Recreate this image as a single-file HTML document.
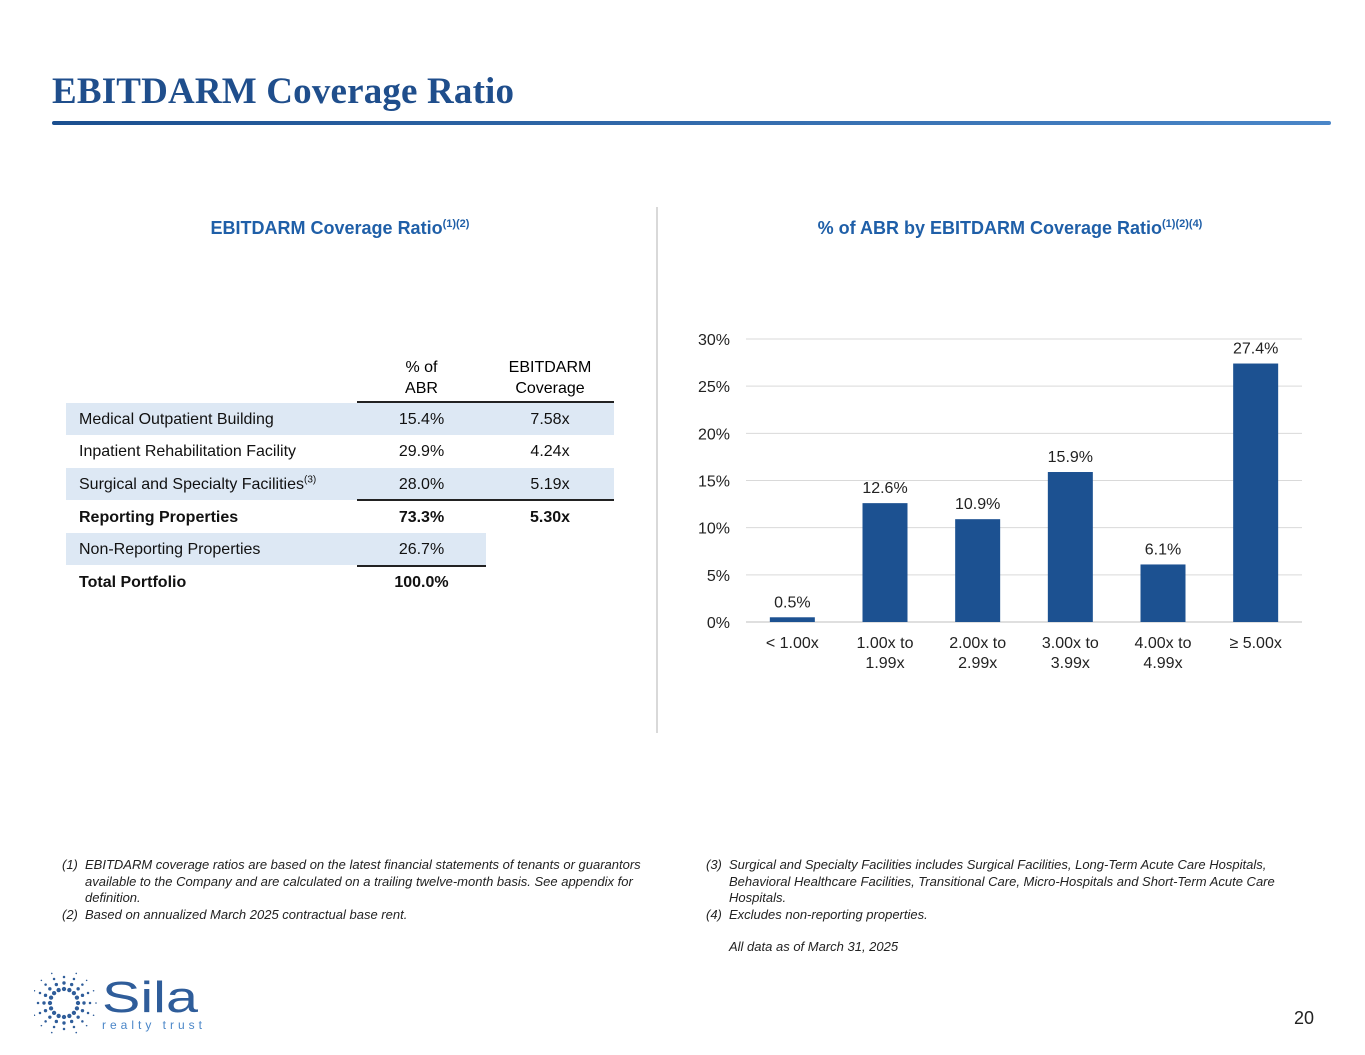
<!DOCTYPE html>
<html><head><meta charset="utf-8">
<style>
body{margin:0;width:1365px;height:1055px;background:#fff;position:relative;overflow:hidden;font-family:"Liberation Sans",Arial,sans-serif;}
.abs{position:absolute;}
.cell{position:absolute;height:33px;line-height:34px;font-size:16px;color:#111;}
.note{position:absolute;font-size:13px;font-style:italic;color:#222;line-height:16.5px;white-space:nowrap;}
</style></head>
<body>
<svg class="abs" style="left:0;top:0" width="1365" height="140">
<defs><linearGradient id="g" x1="0" x2="1"><stop offset="0" stop-color="#1b4f8f"/><stop offset="1" stop-color="#4a86c8"/></linearGradient></defs>
<text x="52" y="103" font-family="Liberation Serif, serif" font-weight="bold" font-size="37" fill="#1f4e8c" textLength="462">EBITDARM Coverage Ratio</text>
<rect x="52" y="121" width="1279" height="4" rx="2" fill="url(#g)"/>
</svg>

<div class="abs" style="left:656px;top:207px;width:2px;height:526px;background:#d9d9d9"></div>

<div class="abs" style="left:66px;top:218px;width:548px;text-align:center;font-size:18px;font-weight:bold;color:#1f5fa8">EBITDARM Coverage Ratio<sup style="font-size:11px">(1)(2)</sup></div>
<div class="abs" style="left:700px;top:218px;width:620px;text-align:center;font-size:18px;font-weight:bold;color:#1f5fa8">% of ABR by EBITDARM Coverage Ratio<sup style="font-size:11px">(1)(2)(4)</sup></div>

<div>
<div class="abs" style="left:357px;top:357px;width:129px;text-align:center;font-size:16px;line-height:21px">% of<br>ABR</div>
<div class="abs" style="left:486px;top:357px;width:128px;text-align:center;font-size:16px;line-height:21px">EBITDARM<br>Coverage</div>
<div class="abs" style="left:357px;top:401px;width:257px;height:2px;background:#222"></div>
<div class="abs" style="left:66px;top:403px;width:548px;height:32px;background:#dde8f4"></div>
<div class="abs" style="left:66px;top:468px;width:548px;height:32px;background:#dde8f4"></div>
<div class="abs" style="left:66px;top:533px;width:420px;height:32px;background:#dde8f4"></div>
<div class="abs" style="left:357px;top:499px;width:257px;height:2px;background:#222"></div>
<div class="abs" style="left:357px;top:565px;width:129px;height:2px;background:#222"></div>

<div class="cell" style="left:79px;top:403px">Medical Outpatient Building</div>
<div class="cell" style="left:357px;top:403px;width:129px;text-align:center">15.4%</div>
<div class="cell" style="left:486px;top:403px;width:128px;text-align:center">7.58x</div>
<div class="cell" style="left:79px;top:435px">Inpatient Rehabilitation Facility</div>
<div class="cell" style="left:357px;top:435px;width:129px;text-align:center">29.9%</div>
<div class="cell" style="left:486px;top:435px;width:128px;text-align:center">4.24x</div>
<div class="cell" style="left:79px;top:468px">Surgical and Specialty Facilities<sup style="font-size:10px;line-height:0">(3)</sup></div>
<div class="cell" style="left:357px;top:468px;width:129px;text-align:center">28.0%</div>
<div class="cell" style="left:486px;top:468px;width:128px;text-align:center">5.19x</div>
<div class="cell" style="left:79px;top:501px;font-weight:bold">Reporting Properties</div>
<div class="cell" style="left:357px;top:501px;width:129px;text-align:center;font-weight:bold">73.3%</div>
<div class="cell" style="left:486px;top:501px;width:128px;text-align:center;font-weight:bold">5.30x</div>
<div class="cell" style="left:79px;top:533px">Non-Reporting Properties</div>
<div class="cell" style="left:357px;top:533px;width:129px;text-align:center">26.7%</div>
<div class="cell" style="left:79px;top:566px;font-weight:bold">Total Portfolio</div>
<div class="cell" style="left:357px;top:566px;width:129px;text-align:center;font-weight:bold">100.0%</div>
</div>

<svg id="chart" class="abs" style="left:0;top:0" width="1365" height="700"></svg>

<div class="note" style="left:62px;top:857px;width:620px">
<div style="display:flex"><span style="width:23px;flex:none">(1)</span><span>EBITDARM coverage ratios are based on the latest financial statements of tenants or guarantors<br>available to the Company and are calculated on a trailing twelve-month basis. See appendix for<br>definition.</span></div>
<div style="display:flex"><span style="width:23px;flex:none">(2)</span><span>Based on annualized March 2025 contractual base rent.</span></div>
</div>
<div class="note" style="left:706px;top:857px;width:620px">
<div style="display:flex"><span style="width:23px;flex:none">(3)</span><span>Surgical and Specialty Facilities includes Surgical Facilities, Long-Term Acute Care Hospitals,<br>Behavioral Healthcare Facilities, Transitional Care, Micro-Hospitals and Short-Term Acute Care<br>Hospitals.</span></div>
<div style="display:flex"><span style="width:23px;flex:none">(4)</span><span>Excludes non-reporting properties.</span></div>
<div style="padding-left:23px;margin-top:16px">All data as of March 31, 2025</div>
</div>

<svg class="abs" style="left:34px;top:972px" width="175" height="62">
<g id="sun" fill="#2f5d9a"></g>
<text x="68" y="40" font-family="Liberation Sans,sans-serif" font-size="44" fill="#2f5d9a" textLength="96" lengthAdjust="spacingAndGlyphs">Sila</text>
<text x="68" y="57" font-family="Liberation Sans,sans-serif" font-size="12" fill="#4a86c8" textLength="100">realty trust</text>
</svg>
<div class="abs" style="left:1294px;top:1008px;font-size:18px;color:#222">20</div>

<script>
const categories=["< 1.00x","1.00x to|1.99x","2.00x to|2.99x","3.00x to|3.99x","4.00x to|4.99x","≥ 5.00x"];
const values=[0.5,12.6,10.9,15.9,6.1,27.4];
const yTicks=[0,5,10,15,20,25,30];
const NS="http://www.w3.org/2000/svg";
const svg=document.getElementById('chart');
const x0=746,x1=1302,y0=622,y1=339,yMax=30;
const band=(x1-x0)/categories.length;
const xC=i=>x0+band*(i+0.5);
const yS=v=>y0-(v/yMax)*(y0-y1);
function mk(t,a){const e=document.createElementNS(NS,t);for(const k in a)e.setAttribute(k,a[k]);svg.appendChild(e);return e;}
yTicks.forEach(t=>{
 const l=mk('line',{x1:x0,x2:x1,y1:yS(t),y2:yS(t),stroke:t===0?'#bfbfbf':'#d9d9d9','stroke-width':1});
 
 
 const tx=mk('text',{x:730,y:yS(t)+6,'text-anchor':'end','font-size':16,fill:'#222','font-family':'Liberation Sans,sans-serif'});
 tx.textContent=t+'%';
 
 
});
values.forEach((v,i)=>{
 const w=45;
 const r=mk('rect',{x:xC(i)-w/2,y:yS(v),width:w,height:y0-yS(v),fill:'#1c5191'});
 
 
 const lb=mk('text',{x:xC(i),y:yS(v)-10,'text-anchor':'middle','font-size':16,fill:'#222','font-family':'Liberation Sans,sans-serif'});
 lb.textContent=v.toFixed(1)+'%';
 
 
 categories[i].split('|').forEach((s,j)=>{
  const c=mk('text',{x:xC(i),y:648+j*20,'text-anchor':'middle','font-size':16,fill:'#222','font-family':'Liberation Sans,sans-serif'});
  c.textContent=s;
  
  
 });
});
const sun=document.getElementById('sun');
for(let k=0;k<16;k++){const a=k/16*Math.PI*2;for(let r=1;r<=4;r++){const d=8+r*6;const c=document.createElementNS(NS,'circle');c.setAttribute('cx',30+Math.cos(a)*d);c.setAttribute('cy',31+Math.sin(a)*d);c.setAttribute('r',2.6-r*0.45);sun.appendChild(c);}}
</script>
</body></html>
